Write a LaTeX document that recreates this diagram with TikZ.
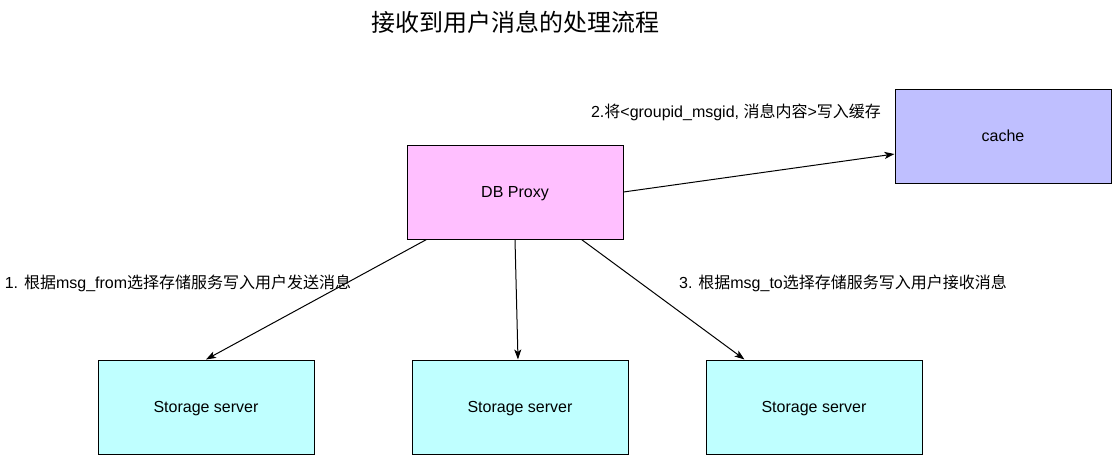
\documentclass[tikz,border=0pt]{standalone}
\usepackage{fontspec}
\setmainfont{Liberation Sans}
\newfontfamily\cjk{Noto Sans CJK SC}
\usetikzlibrary{arrows.meta}
\definecolor{pinkfill}{RGB}{255,191,255}
\definecolor{cachefill}{RGB}{191,191,255}
\definecolor{storefill}{RGB}{191,255,255}
\begin{document}
\begin{tikzpicture}[x=1pt,y=-1pt,
  box/.style={draw=black,line width=1pt,minimum width=216pt,minimum height=94pt,inner sep=0pt,text height=11.5pt,text depth=-1pt,font=\fontsize{16pt}{19pt}\selectfont},
  lbl/.style={inner sep=0pt,font=\fontsize{16pt}{19pt}\selectfont},
  conn/.style={draw=black,line width=1pt,-{Stealth[length=10pt,width=7pt,inset=2.5pt]}}]
\useasboundingbox (0,0) rectangle (1112,456);
\node[inner sep=0pt,font=\fontsize{24pt}{28pt}\selectfont\cjk] (title) at (515,22) {接收到用户消息的处理流程};
\node[box,fill=pinkfill] (db) at (515,192) {DB Proxy};
\node[box,fill=cachefill] (cache) at (1003,136) {cache};
\node[box,fill=storefill] (s1) at (206,407) {Storage server};
\node[box,fill=storefill] (s2) at (520,407) {Storage server};
\node[box,fill=storefill] (s3) at (814,407) {Storage server};
\node[lbl] (l2) at (736,112) {2.{\cjk 将}<groupid\_msgid, {\cjk 消息内容}>{\cjk 写入缓存}};
\node[lbl] (l1) at (178,283) {1. {\cjk 根据}msg\_from{\cjk 选择存储服务写入用户发送消息}};
\node[lbl] (l3) at (843,283) {3. {\cjk 根据}msg\_to{\cjk 选择存储服务写入用户接收消息}};
\draw[conn] (db.east) -- ([yshift=-18pt]cache.west);
\draw[conn] ([xshift=20pt]db.south west) -- (s1.north);
\draw[conn] (db.south) -- ([xshift=-2pt]s2.north);
\draw[conn] ([xshift=-42pt]db.south east) -- ([xshift=39pt]s3.north west);
\end{tikzpicture}
\end{document}
